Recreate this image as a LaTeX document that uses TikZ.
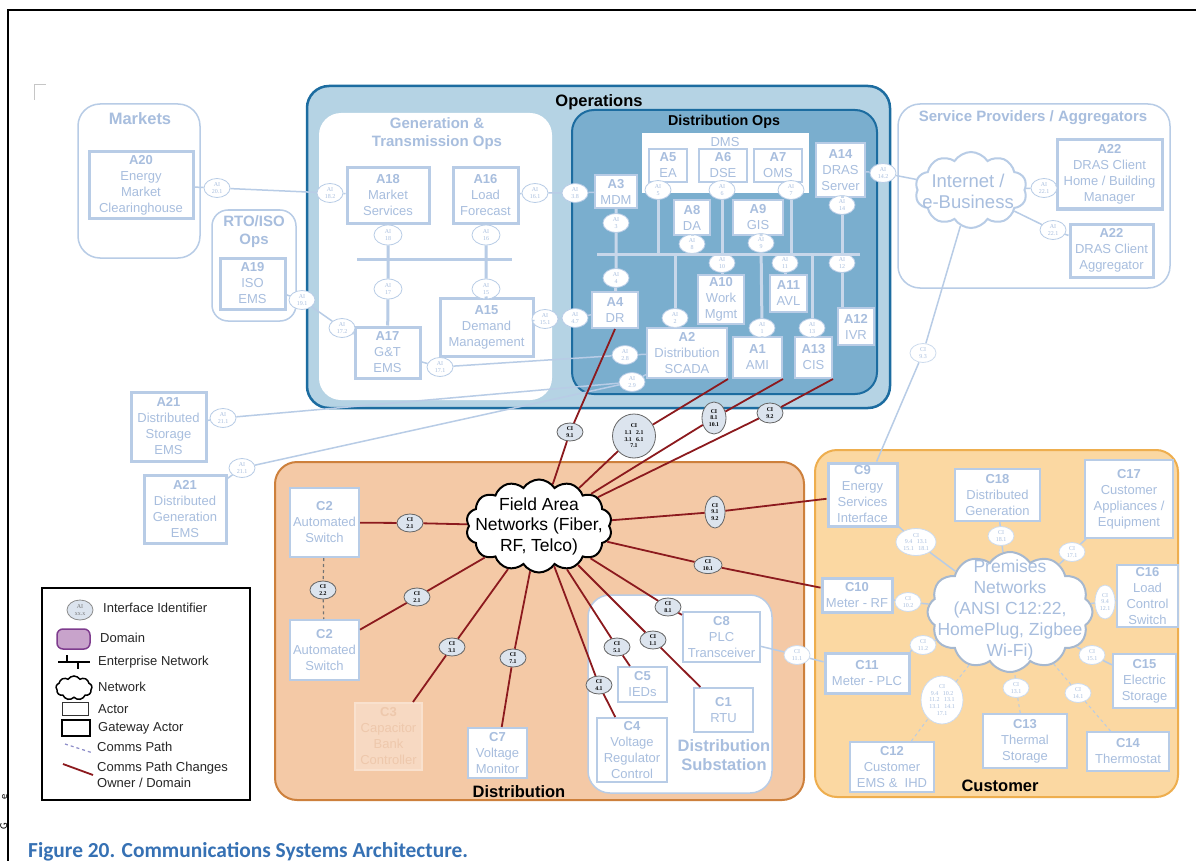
\documentclass[tikz,border=0pt]{standalone}
\usepackage{fontspec}
\setmainfont{Liberation Sans}
\newfontfamily\tmsfont{Liberation Serif}
\newfontfamily\calfont{Carlito}
\usetikzlibrary{shapes.geometric,shapes.symbols,calc}
\definecolor{fb}{RGB}{184,204,230}
\definecolor{ft}{RGB}{168,190,222}
\definecolor{opfill}{RGB}{181,211,228}
\definecolor{opborder}{RGB}{28,108,160}
\definecolor{dofill}{RGB}{122,174,206}
\definecolor{busc}{RGB}{200,215,234}
\definecolor{distfill}{RGB}{244,201,166}
\definecolor{distborder}{RGB}{205,128,60}
\definecolor{custfill}{RGB}{251,216,162}
\definecolor{custborder}{RGB}{238,174,78}
\definecolor{redc}{RGB}{140,26,30}
\definecolor{cifill}{RGB}{220,228,238}
\definecolor{capblue}{RGB}{54,113,180}
\definecolor{c3fill}{RGB}{247,217,194}
\definecolor{c3text}{RGB}{238,200,172}
\definecolor{domfill}{RGB}{200,163,203}
\definecolor{domborder}{RGB}{126,60,142}
\definecolor{pathc}{RGB}{140,140,200}
\newcommand\actfont{\fontsize{13}{16}\selectfont}
\newcommand\aifont{\tmsfont\fontsize{6}{6.8}\selectfont}
\newcommand\cifont{\tmsfont\bfseries\fontsize{5.8}{6.6}\selectfont}
\newcommand\bigtitle{\bfseries\fontsize{16.5}{19}\selectfont}
\newcommand\midtitle{\bfseries\fontsize{15}{18}\selectfont}
\begin{document}
\begin{tikzpicture}[x=1pt,y=-1pt,
  actor/.style={draw=fb, line width=2, fill=white, text=ft, align=center, inner sep=0pt, font=\actfont},
  gw/.style={line width=3},
  ai/.style={ellipse, draw=fb, fill=white, line width=0.8, minimum width=26, minimum height=19, inner sep=0pt, text=ft, align=center, font=\aifont},
  cic/.style={ai, draw=fb!70},
  ci/.style={ellipse, draw=black!60, fill=cifill, line width=0.8, minimum width=26, minimum height=18, inner sep=0pt, align=center, font=\cifont},
  fline/.style={draw=fb, line width=1.5},
  rline/.style={draw=redc, line width=1.8},
  busline/.style={draw=fb, line width=3},
  dbus/.style={draw=busc, line width=3},
  dom/.style={rounded corners=22},
  netcloud/.style={cloud, cloud puffs=13, cloud puff arc=115, cloud ignores aspect, inner sep=0pt},
  lgtext/.style={anchor=west, font=\actfont, text=black!85, inner sep=0pt, align=left}
]
\useasboundingbox (0,0) rectangle (1196,861);
\fill[white] (0,0) rectangle (1196,861);
% frame and corner mark
\draw[line width=2] (8,861) -- (8,10) -- (1196,10);
\draw[gray!45, line width=1] (34,100) -- (34,85) -- (46,85);

% ---------- domains ----------
\draw[dom, draw=fb, line width=1.5, fill=white] (78,104) rectangle (200,258);
\draw[rounded corners=16, draw=fb, line width=1.5, fill=white] (212,210) rectangle (296,321);
\draw[dom, draw=fb, line width=1.5, fill=white] (898,104) rectangle (1170,288);
\draw[dom, draw=opborder, line width=2.5, fill=opfill] (307,86) rectangle (890,408);
\fill[dom, white] (319,113) rectangle (552,400);
\draw[dom, draw=opborder, line width=2, fill=dofill] (572,110) rectangle (877,394);
\draw[dom, draw=distborder, line width=2, fill=distfill] (275,462) rectangle (804,800);
\draw[dom, draw=fb, line width=1.5, fill=white] (588,595) rectangle (772,793);
\draw[dom, draw=custborder, line width=2, fill=custfill] (815,450) rectangle (1178,797);

% ---------- titles ----------
\node[font=\bigtitle, text=ft] (tmarkets) at (140,119) {Markets};
\node[font=\midtitle, text=ft, align=center] (trto) at (254,232) {RTO/ISO\\Ops};
\node[font=\bigtitle] (tops) at (599,102) {Operations};
\node[font=\midtitle, text=ft, align=center] (tgen) at (437,134) {Generation \&\\Transmission Ops};
\node[font=\bfseries\fontsize{14.3}{17}\selectfont] (tdops) at (724,122) {Distribution Ops};
\node[font=\midtitle, text=ft] (tsp) at (1033,118) {Service Providers / Aggregators};
\node[font=\bigtitle] (tdist) at (519,792) {Distribution};
\node[font=\bigtitle, text=ft, align=center] (tsub) at (724,755) {Distribution\\Substation};
\node[font=\bigtitle] (tcust) at (1000,786) {Customer};

% ---------- actors: markets / ops ----------
\node[actor, gw, minimum width=104, minimum height=66] (A20) at (141,185) {\textbf{A20}\\Energy\\Market\\Clearinghouse};
\node[actor, gw, minimum width=65, minimum height=51] (A19) at (252.5,283.5) {\textbf{A19}\\ISO\\EMS};
\node[actor, gw, minimum width=82, minimum height=55] (A18) at (388,195.5) {\textbf{A18}\\Market\\Services};
\node[actor, gw, minimum width=65, minimum height=55] (A16) at (485.5,195.5) {\textbf{A16}\\Load\\Forecast};
\node[actor, gw, minimum width=93, minimum height=58] (A15) at (486.5,327) {\textbf{A15}\\Demand\\Management};
\node[actor, gw, minimum width=65, minimum height=51] (A17) at (387.5,352.5) {\textbf{A17}\\G\&T\\EMS};
\node[fill=white, minimum width=167, minimum height=60, inner sep=0pt] (DMS) at (725.5,163) {};
\node[text=ft, font=\actfont] (dmslbl) at (725,142) {DMS};
\node[actor, minimum width=38, minimum height=33] (A5) at (668,165.5) {\textbf{A5}\\EA};
\node[actor, minimum width=48, minimum height=33] (A6) at (723,165.5) {\textbf{A6}\\DSE};
\node[actor, minimum width=48, minimum height=33] (A7) at (778,165.5) {\textbf{A7}\\OMS};
\node[actor, minimum width=49, minimum height=54] (A14) at (840.5,170) {\textbf{A14}\\DRAS\\Server};
\node[actor, minimum width=42, minimum height=33] (A3) at (616,191.5) {\textbf{A3}\\MDM};
\node[actor, minimum width=36, minimum height=35] (A8) at (692,217.5) {\textbf{A8}\\DA};
\node[actor, minimum width=50, minimum height=35] (A9) at (758,217.5) {\textbf{A9}\\GIS};
\node[actor, minimum width=46, minimum height=36] (A4) at (615,310) {\textbf{A4}\\DR};
\node[actor, minimum width=46, minimum height=49] (A10) at (721,299.5) {\textbf{A10}\\Work\\Mgmt};
\node[actor, minimum width=37, minimum height=37] (A11) at (788.5,293.5) {\textbf{A11}\\AVL};
\node[actor, minimum width=36, minimum height=37] (A12) at (856,326.5) {\textbf{A12}\\IVR};
\node[actor, minimum width=80, minimum height=50] (A2) at (687,353) {\textbf{A2}\\Distribution\\SCADA};
\node[actor, minimum width=49, minimum height=41] (A1) at (757.5,357.5) {\textbf{A1}\\AMI};
\node[actor, minimum width=37, minimum height=41] (A13) at (813.5,357.5) {\textbf{A13}\\CIS};
\node[actor, gw, minimum width=105, minimum height=69] (A22a) at (1109.5,174.5) {\textbf{A22}\\DRAS Client\\Home / Building\\Manager};
\node[actor, gw, minimum width=83, minimum height=53] (A22b) at (1111.5,250.5) {\textbf{A22}\\DRAS Client\\Aggregator};
\node[actor, gw, minimum width=75, minimum height=69] (A21a) at (168.5,426.5) {\textbf{A21}\\Distributed\\Storage\\EMS};
\node[actor, gw, minimum width=82, minimum height=68] (A21b) at (185,509) {\textbf{A21}\\Distributed\\Generation\\EMS};

% ---------- actors: distribution ----------
\node[actor, minimum width=69, minimum height=69] (C2a) at (324.5,522.5) {\textbf{C2}\\Automated\\Switch};
\node[actor, minimum width=69, minimum height=60] (C2b) at (324.5,650) {\textbf{C2}\\Automated\\Switch};
\node[actor, draw=c3fill!80!white, fill=c3fill, text=c3text, minimum width=67, minimum height=67] (C3) at (388.5,736.5) {\textbf{C3}\\Capacitor\\Bank\\Controller};
\node[actor, minimum width=59, minimum height=50] (C7) at (497.5,753) {\textbf{C7}\\Voltage\\Monitor};
\node[actor, minimum width=77, minimum height=50] (C8) at (721.5,637) {\textbf{C8}\\PLC\\Transceiver};
\node[actor, minimum width=49, minimum height=35] (C5) at (642.5,684.5) {\textbf{C5}\\IEDs};
\node[actor, minimum width=59, minimum height=44] (C1) at (723.5,710) {\textbf{C1}\\RTU};
\node[actor, minimum width=70, minimum height=64] (C4) at (632,750) {\textbf{C4}\\Voltage\\Regulator\\Control};

% ---------- actors: customer ----------
\node[actor, gw, minimum width=69, minimum height=63] (C9) at (862.5,494.5) {\textbf{C9}\\Energy\\Services\\Interface};
\node[actor, minimum width=85, minimum height=52] (C18) at (997.5,495) {\textbf{C18}\\Distributed\\Generation};
\node[actor, minimum width=88, minimum height=78] (C17) at (1129,499) {\textbf{C17}\\Customer\\Appliances /\\Equipment};
\node[actor, gw, minimum width=70, minimum height=34] (C10) at (857,595) {\textbf{C10}\\Meter - RF};
\node[actor, minimum width=61, minimum height=62] (C16) at (1147.5,596) {\textbf{C16}\\Load\\Control\\Switch};
\node[actor, gw, minimum width=84, minimum height=40] (C11) at (867,673) {\textbf{C11}\\Meter - PLC};
\node[actor, minimum width=63, minimum height=54] (C15) at (1144.5,681) {\textbf{C15}\\Electric\\Storage};
\node[actor, minimum width=84, minimum height=54] (C13) at (1025,741) {\textbf{C13}\\Thermal\\Storage};
\node[actor, minimum width=82, minimum height=39] (C14) at (1128,751.5) {\textbf{C14}\\Thermostat};
\node[actor, minimum width=84, minimum height=50] (C12) at (892,767) {\textbf{C12}\\Customer\\EMS \&\ \ IHD};

% ---------- clouds ----------
\node[netcloud, draw=black, fill=white, line width=2, cloud puffs=14, minimum width=146, minimum height=93] (fan) at (539,526) {};
\node[font=\fontsize{17.5}{20.5}\selectfont, align=center, inner sep=0pt] (fantext) at (539,526) {Field Area\\Networks (Fiber,\\RF, Telco)};
\node[netcloud, draw=fb, fill=white, line width=2, cloud puffs=10, minimum width=112, minimum height=76] (inet) at (971,190) {};
\node[font=\fontsize{18.5}{21}\selectfont, text=ft, align=center, inner sep=0pt] (inettext) at (968,191) {Internet /\\e-Business};
\node[netcloud, draw=fb!90!black, fill=white, line width=2, cloud puffs=12, minimum width=165, minimum height=120] (prem) at (1010,612) {};
\node[font=\fontsize{17.5}{21}\selectfont, text=ft, align=center, inner sep=0pt] (premtext) at (1010,609.5) {Premises\\Networks\\(ANSI C12:22,\\HomePlug, Zigbee\\Wi-Fi)};

% ---------- AI identifiers ----------
\node[ai] (ai201) at (217,188) {AI\\20.1};
\node[ai] (ai182) at (330,193) {AI\\18.2};
\node[ai] (ai191) at (302,300) {AI\\19.1};
\node[ai] (ai172) at (342,328) {AI\\17.2};
\node[ai, minimum width=28, minimum height=20] (ai18) at (388,235) {AI\\18};
\node[ai, minimum width=28, minimum height=20] (ai16) at (486,235) {AI\\16};
\node[ai, minimum width=28, minimum height=20] (ai17) at (388,289) {AI\\17};
\node[ai, minimum width=28, minimum height=20] (ai15) at (486,289) {AI\\15};
\node[ai] (ai161) at (535,193) {AI\\16.1};
\node[ai] (ai38) at (575,193) {AI\\3.8};
\node[ai] (ai151) at (545,319) {AI\\15.1};
\node[ai] (ai47) at (575,318) {AI\\4.7};
\node[ai] (ai171) at (440,367) {AI\\17.1};
\node[ai] (ai28) at (625,355) {AI\\2.8};
\node[ai] (ai29) at (632,382) {AI\\2.9};
\node[ai] (ai211a) at (223,418) {AI\\21.1};
\node[ai] (ai211b) at (242,468) {AI\\21.1};
\node[ai] (ai5) at (658,190) {AI\\5};
\node[ai] (ai6) at (722,190) {AI\\6};
\node[ai] (ai7) at (791,190) {AI\\7};
\node[ai] (ai14) at (842,205) {AI\\14};
\node[ai] (ai3) at (616,223) {AI\\3};
\node[ai] (ai8) at (692,244) {AI\\8};
\node[ai] (ai9) at (761,243) {AI\\9};
\node[ai] (ai4) at (616,278) {AI\\4};
\node[ai] (ai10) at (722,263) {AI\\10};
\node[ai] (ai11) at (785,263) {AI\\11};
\node[ai] (ai12) at (842,263) {AI\\12};
\node[ai] (ai2) at (675,318) {AI\\2};
\node[ai] (ai1) at (762,328) {AI\\1};
\node[ai] (ai13) at (812,328) {AI\\13};
\node[ai] (ai142) at (883,173) {AI\\14.2};
\node[ai] (ai221a) at (1044,188) {AI\\22.1};
\node[ai] (ai221b) at (1053,230) {AI\\22.1};

% ---------- CI identifiers (distribution) ----------
\node[ci] (ci91) at (570,432) {CI\\9.1};
\node[ci, minimum width=43, minimum height=44] (cibig) at (634,436) {CI\\1.1\ \ \ 2.1\\3.1\ \ \ 6.1\\7.1};
\node[ci, minimum width=24, minimum height=32] (ci8101) at (714,418) {CI\\8.1\\10.1};
\node[ci, minimum height=20] (ci92) at (770,413) {CI\\9.2};
\node[ci, minimum width=20, minimum height=32] (ci9192) at (715,512) {CI\\9.1\\9.2};
\node[ci, minimum width=28, minimum height=17] (ci101) at (708,565) {CI\\10.1};
\node[ci] (ci81) at (668,607) {CI\\8.1};
\node[ci] (ci11) at (653,640) {CI\\1.1};
\node[ci] (ci51) at (617,647) {CI\\5.1};
\node[ci] (ci41) at (599,685) {CI\\4.1};
\node[ci] (ci21a) at (410,523) {CI\\2.1};
\node[ci] (ci21b) at (417,597) {CI\\2.1};
\node[ci] (ci31) at (452,647) {CI\\3.1};
\node[ci] (ci71) at (513,658) {CI\\7.1};
\node[ci] (ci22) at (323,590) {CI\\2.2};

% ---------- CI identifiers (customer, faded) ----------
\node[cic] (ci93) at (923,353) {CI\\9.3};
\node[cic] (ci111) at (797,655) {CI\\11.1};
\node[cic, minimum width=40, minimum height=27] (cic9) at (916,542) {CI\\9.4\ \ \ 13.1\\15.1\ \ \ 18.1};
\node[cic] (cic181) at (1001,536) {CI\\18.1};
\node[cic] (cic171) at (1072,552) {CI\\17.1};
\node[cic] (cic102) at (908,602) {CI\\10.2};
\node[cic, minimum width=20, minimum height=34] (cic94) at (1105,602) {CI\\9.4\\12.1};
\node[cic] (cic112) at (923,645) {CI\\11.2};
\node[cic] (cic151) at (1092,655) {CI\\15.1};
\node[cic, minimum width=42, minimum height=48] (cic12) at (942,700) {CI\\9.4\ \ \ 10.2\\11.2\ \ \ 13.1\\13.1\ \ \ 14.1\\17.1};
\node[cic] (cic131) at (1016,688) {CI\\13.1};
\node[cic] (cic141) at (1078,693) {CI\\14.1};

% ---------- enterprise buses ----------
\coordinate (gbusL) at (357,259); \coordinate (gbusR) at (512,259);
\draw[busline] (gbusL) -- (gbusR);
\draw[busline] (A18) -- (ai18) -- (ai17) -- (A17);
\draw[busline] (A16) -- (ai16) -- (ai15) -- (A15);
\coordinate (dbusL) at (597,254); \coordinate (dbusR) at (860,254);
\draw[dbus] (dbusL) -- (dbusR);
\draw[dbus] (A3) -- (ai3) -- (ai4) -- (A4);
\draw[dbus] (ai5) -- (ai5 |- dbusL);
\draw[dbus] (ai6) -- (ai10) -- (ai10 |- A10.north);
\draw[dbus] (ai7) -- (ai7 |- dbusL);
\draw[dbus] (ai14 |- A14.south) -- (ai14) -- (ai12) -- (ai12 |- A12.north);
\draw[dbus] (A8) -- (ai8) -- (ai8 |- dbusL);
\draw[dbus] (ai9 |- A9.south) -- (ai9) -- (ai1) -- (ai1 |- A1.north);
\draw[dbus] (ai11 |- dbusL) -- (ai11) -- (ai11 |- A11.north);
\draw[dbus] (ai2 |- dbusL) -- (ai2) -- (ai2 |- A2.north);
\draw[dbus] (ai13 |- dbusL) -- (ai13) -- (ai13 |- A13.north);

% ---------- faded comms paths ----------
\draw[fline] (A20) -- (ai201) -- (ai182) -- (A18);
\draw[fline] (A19) -- (ai191) -- (ai172) -- (A17);
\draw[fline] (A16) -- (ai161) -- (ai38) -- (A3);
\draw[fline] (A15) -- (ai151) -- (ai47) -- (A4);
\draw[fline] (A17) -- (ai171) -- (ai28) -- (A2);
\draw[fline] (A21a) -- (ai211a) -- (ai29) -- (A2);
\draw[fline] (A21b) -- (ai211b) -- (ai29);
\draw[fline] (A14) -- (ai142) -- (inet);
\draw[fline] (inet) -- (ai221a) -- (A22a);
\draw[fline] (inet) -- (ai221b) -- (A22b);
\draw[fline] (inet) -- (ci93) -- (C9);
\draw[fline] (C8) -- (ci111) -- (C11);
\draw[fline] (C9) -- (cic9) -- (prem);
\draw[fline] (C18) -- (cic181) -- (prem);
\draw[fline] (C17) -- (cic171) -- (prem);
\draw[fline] (C10) -- (cic102) -- (prem);
\draw[fline] (C16) -- (cic94) -- (prem);
\draw[fline] (C11) -- (cic112) -- (prem);
\draw[fline] (C15) -- (cic151) -- (prem);
\draw[fline, dashed, line width=1] (C12) -- (cic12) -- (prem);
\draw[fline, dashed, line width=1] (C13) -- (cic131) -- (prem);
\draw[fline, dashed, line width=1] (C14) -- (cic141) -- (prem);
\draw[black!55, dashed, line width=1.2] (C2a) -- (ci22) -- (C2b);

% ---------- red comms paths (owner / domain change) ----------
\draw[rline] (fan) -- (ci91) -- (A4.south);
\draw[rline] (fan) -- (cibig) -- (A2.south east);
\draw[rline] (fan) -- (ci8101) -- (A1.south east);
\draw[rline] (fan) -- (ci92) -- (A13.south east);
\draw[rline] (fan) -- (ci9192) -- (C9);
\draw[rline] (fan) -- (ci101) -- (C10);
\draw[rline] (fan) -- (ci81) -- (C8);
\draw[rline] (fan) -- (ci11) -- (C1);
\draw[rline] (fan) -- (ci51) -- (C5);
\draw[rline] (fan) -- (ci41) -- (C4);
\draw[rline] (fan) -- (ci21a) -- (C2a);
\draw[rline] (fan) -- (ci21b) -- (C2b);
\draw[rline] (fan) -- (ci31) -- (C3);
\draw[rline] (fan) -- (ci71) -- (C7);

% ---------- legend ----------
\node[draw=black, line width=2, minimum width=208, minimum height=212, inner sep=0pt] (legend) at (146,694) {};
\node[ellipse, draw=black!45, fill=cifill, line width=0.8, minimum width=26, minimum height=20, inner sep=0pt, font=\aifont, text=black!55, align=center] (lgai) at (80,610) {AI\\xx.x};
\node[lgtext] (lgt1) at (103,608) {Interface Identifier};
\node[draw=domborder, fill=domfill, rounded corners=6, line width=1.5, minimum width=33, minimum height=20, inner sep=0pt] (lgdom) at (73.5,639) {};
\node[lgtext] (lgt2) at (100,638) {Domain};
\draw[line width=1.5] (58,662) -- (90,662);
\draw[line width=1.5] (67,655) -- (67,662);
\draw[line width=1.5] (78,662) -- (78,669);
\node[lgtext] (lgt3) at (98,662) {Enterprise Network};
\node[netcloud, draw=black, line width=1.5, cloud puffs=9, minimum width=36, minimum height=24] (lgnet) at (74,688) {};
\node[lgtext] (lgt4) at (98,687) {Network};
\node[draw=black!80, line width=1, minimum width=26, minimum height=13, inner sep=0pt] (lgact) at (75,709) {};
\node[lgtext] (lgt5) at (98,709) {Actor};
\node[draw=black, line width=2.5, minimum width=28, minimum height=16, inner sep=0pt] (lggw) at (76,728) {};
\node[lgtext] (lgt6) at (98,728) {Gateway Actor};
\coordinate (lgp1) at (65,744); \coordinate (lgp2) at (93,753);
\draw[pathc, dashed, line width=1.2] (lgp1) -- (lgp2);
\node[lgtext] (lgt7) at (97,747) {Comms Path};
\coordinate (lgr1) at (63,764); \coordinate (lgr2) at (93,775);
\draw[rline] (lgr1) -- (lgr2);
\node[lgtext, font=\fontsize{13}{16}\selectfont] (lgt8) at (97,775) {Comms Path Changes\\Owner / Domain};

% ---------- caption and page-edge glyphs ----------
\node[anchor=base west, inner sep=0pt, font=\calfont\bfseries\fontsize{21.4}{24}\selectfont, text=capblue] (caption) at (28,857) {Figure 20. Communications Systems Architecture.};
\node[rotate=90, anchor=base, inner sep=0pt, font=\calfont\fontsize{10.5}{10.5}\selectfont] (edgee) at (7,797) {e};
\node[rotate=90, anchor=base, inner sep=0pt, font=\calfont\fontsize{10.5}{10.5}\selectfont] (edgeg) at (7,826) {G};
\end{tikzpicture}
\end{document}
